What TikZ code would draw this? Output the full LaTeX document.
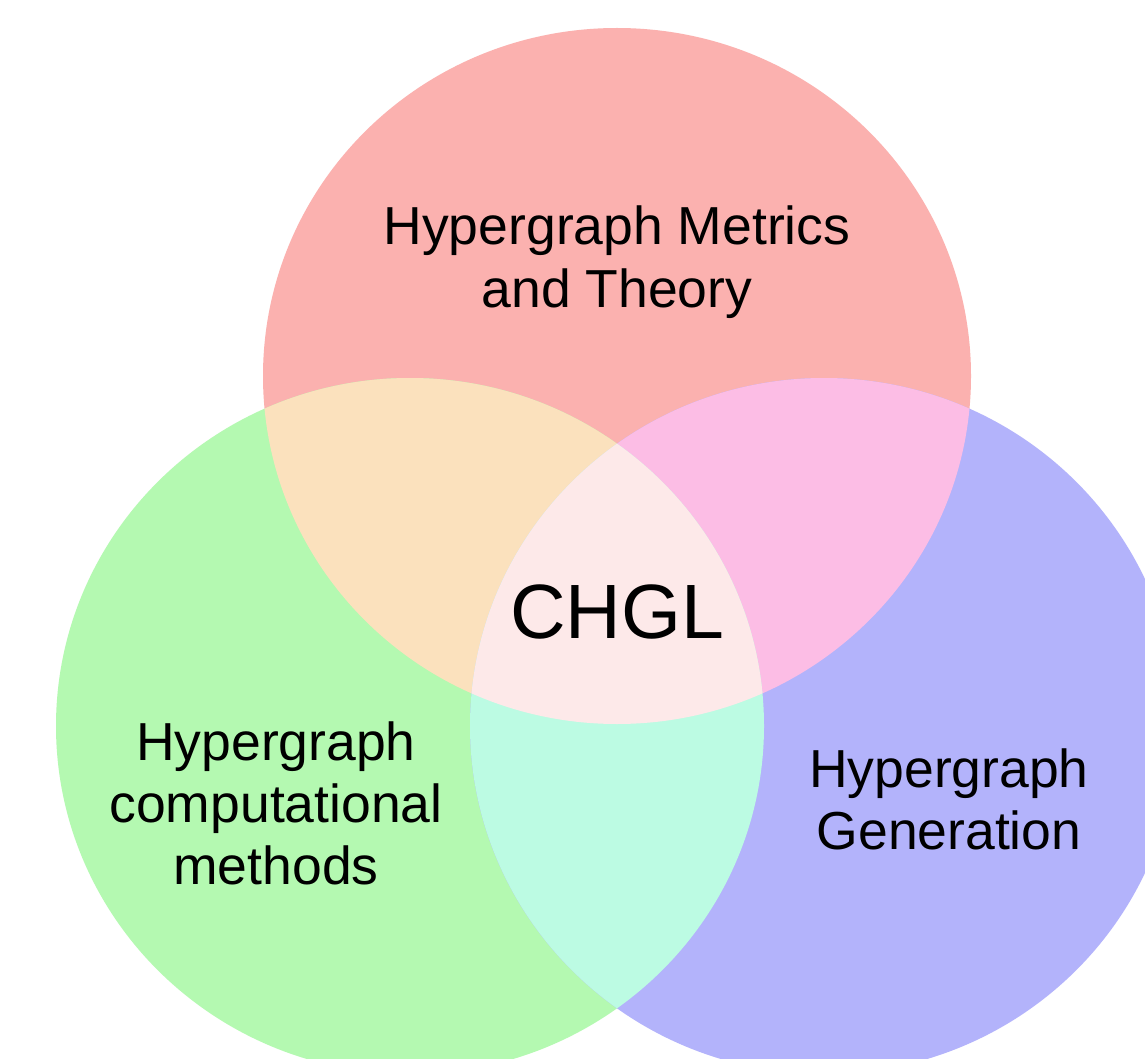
\documentclass[tikz,border=0pt]{standalone}
\usepackage{fontspec}
\setmainfont{Liberation Sans}
\definecolor{cred}{HTML}{FBB1AF}
\definecolor{cgreen}{HTML}{B4F9B1}
\definecolor{cblue}{HTML}{B3B3FB}
\definecolor{crg}{HTML}{FBE1BD}
\definecolor{crb}{HTML}{FCBDE5}
\definecolor{cgb}{HTML}{BCFBE3}
\definecolor{crgb}{HTML}{FDE9E9}
\begin{document}
\begin{tikzpicture}[x=1pt,y=-1pt,
  lbl/.style={anchor=base,inner sep=0pt,font=\fontsize{53.5}{62}\selectfont},
  big/.style={anchor=base,inner sep=0pt,font=\fontsize{77}{88}\selectfont}]
\def\Rpath{(617,376) ellipse [x radius=354pt, y radius=348pt]}
\def\Gpath{(410,726) ellipse [x radius=354pt, y radius=348pt]}
\def\Bpath{(824,726) ellipse [x radius=354pt, y radius=348pt]}
\fill[white] (0,0) rectangle (1145,1059);
\useasboundingbox (0,0) rectangle (1145,1059);
\begin{scope}
\clip (0,0) rectangle (1145,1059);
\fill[cred] \Rpath;
\fill[cgreen] \Gpath;
\fill[cblue] \Bpath;
\begin{scope}\clip \Rpath; \fill[crg] \Gpath; \end{scope}
\begin{scope}\clip \Rpath; \fill[crb] \Bpath; \end{scope}
\begin{scope}\clip \Gpath; \fill[cgb] \Bpath; \end{scope}
\begin{scope}\clip \Rpath; \clip \Gpath; \fill[crgb] \Bpath; \end{scope}
\end{scope}
\node[lbl] (r1) at (617,245) {Hypergraph Metrics};
\node[lbl] (r2) at (617,307) {and Theory};
\node[big] (c) at (617,638) {CHGL};
\node[lbl] (g1) at (276,760) {Hypergraph};
\node[lbl] (g2) at (276,822) {computational};
\node[lbl] (g3) at (276,884) {methods};
\node[lbl] (b1) at (949,787) {Hypergraph};
\node[lbl] (b2) at (949,849) {Generation};
\end{tikzpicture}
\end{document}
